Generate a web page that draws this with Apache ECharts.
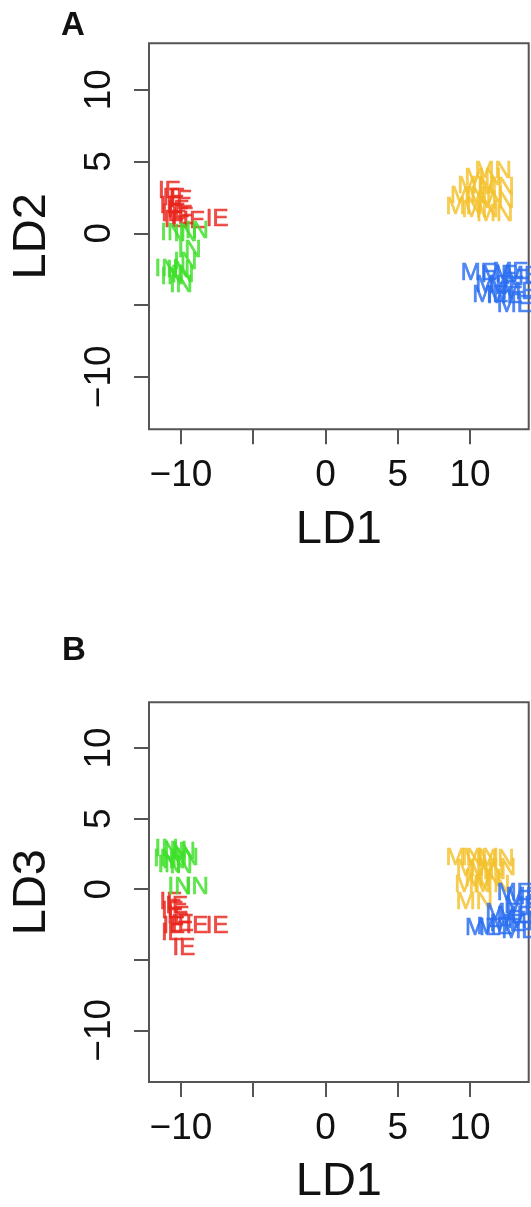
<!DOCTYPE html>
<html>
<head>
<meta charset="utf-8">
<script src="https://cdn.jsdelivr.net/npm/echarts@6/dist/echarts.min.js"></script>
<style>
html,body{margin:0;padding:0;background:#fff;}
#c{width:531px;height:1207px;}
</style>
</head>
<body>
<div id="c"></div>
<script>
// Tick values and labels
const xTicks = [-10, -5, 0, 5, 10];
const xTickLabels = [-10, 0, 5, 10];
const yTicks = [-10, -5, 0, 5, 10];
const yTickLabels = [-10, 0, 5, 10];

// Panel A: LD1 vs LD2
const A_IE = [[-10.8,2.9],[-10.5,2.4],[-10.0,2.3],[-10.7,1.9],[-10.2,1.6],[-10.6,1.3],[-9.9,1.1],[-10.4,0.9],[-9.1,0.8],[-7.5,0.95]];
const A_IN = [[-10.6,0.0],[-9.7,-0.1],[-8.9,0.1],[-9.4,-1.2],[-9.7,-2.0],[-11.0,-2.5],[-10.2,-2.6],[-10.6,-3.1],[-10.0,-3.6],[-9.9,-2.9]];
const A_MN = [[11.6,4.3],[10.9,3.8],[10.4,3.3],[11.8,3.2],[9.9,2.6],[11.0,2.6],[11.8,2.2],[9.6,1.8],[10.7,1.6],[11.7,1.3]];
const A_ME = [[10.6,-2.8],[12.0,-2.9],[12.8,-2.7],[13.6,-3.0],[11.6,-3.6],[12.5,-3.7],[11.4,-4.3],[12.4,-4.4],[13.4,-4.1],[13.1,-5.0]];

// Panel B: LD1 vs LD3
const B_IN = [[-11.0,2.8],[-10.4,2.7],[-9.8,2.6],[-11.1,2.1],[-10.5,2.0],[-9.6,2.2],[-10.8,1.7],[-10.0,1.6],[-10.1,0.1],[-8.9,0.1]];
const B_IE = [[-10.7,-0.9],[-10.3,-1.2],[-10.6,-1.6],[-10.2,-1.9],[-10.5,-2.6],[-9.9,-2.5],[-8.9,-2.6],[-7.5,-2.6],[-10.6,-3.1],[-9.8,-4.2]];
const B_MN = [[9.6,2.2],[10.7,2.2],[11.8,2.1],[10.3,1.4],[11.2,1.2],[11.9,1.5],[10.9,0.7],[10.2,0.3],[11.5,0.3],[10.3,-0.9]];
const B_ME = [[13.1,-0.3],[13.7,-0.6],[13.6,-1.2],[12.3,-1.7],[13.1,-1.9],[13.8,-2.3],[10.9,-2.8],[11.7,-2.7],[12.6,-2.5],[13.4,-3.0]];

const colors = {IE:'#e8241c', IN:'#3fe02a', MN:'#f4c22e', ME:'#2b6ef0'};
const FONT = 'Liberation Sans, Arial, Helvetica, sans-serif';
const fmt = v => String(v).replace('-', '\u2212');

function mkX(idx){
  return {
    type:'value', gridIndex:idx, min:-12.21, max:14.06,
    name:'LD1', nameLocation:'middle', nameGap:77,
    nameTextStyle:{fontSize:47, color:'#111', fontFamily:FONT},
    axisLine:{show:false, onZero:false},
    axisTick:{show:true, length:15, lineStyle:{color:'#555', width:2}, customValues:xTicks},
    axisLabel:{show:true, margin:28, fontSize:37, color:'#111', fontFamily:FONT, customValues:xTickLabels, formatter:fmt},
    splitLine:{show:false}
  };
}
function mkY(idx, name){
  return {
    type:'value', gridIndex:idx, min:-13.66, max:13.24,
    name:name, nameLocation:'middle', nameGap:93, nameRotate:90,
    nameTextStyle:{fontSize:47, color:'#111', fontFamily:FONT},
    axisLine:{show:false, onZero:false},
    axisTick:{show:true, length:15, lineStyle:{color:'#555', width:2}, customValues:yTicks},
    axisLabel:{show:true, margin:31, rotate:90, fontSize:37, color:'#111', fontFamily:FONT, customValues:yTickLabels, formatter:fmt},
    splitLine:{show:false}
  };
}
function mkS(label, data, idx){
  return {
    type:'scatter', xAxisIndex:idx, yAxisIndex:idx, data:data,
    symbol:'circle', symbolSize:1, itemStyle:{color:'rgba(0,0,0,0)'},
    label:{show:true, position:'inside', formatter:label, color:colors[label], fontSize:24, fontFamily:FONT,
           textBorderColor:colors[label], textBorderWidth:0.7},
    emphasis:{disabled:true}, silent:true
  };
}

const chart = echarts.init(document.getElementById('c'), null, {renderer:'canvas'});
chart.setOption({
  animation:false,
  backgroundColor:'#fff',
  title:[
    {text:'A', left:61, top:9, padding:0, textStyle:{fontSize:33, fontWeight:'bold', color:'#111', fontFamily:FONT}},
    {text:'B', left:62, top:634, padding:0, textStyle:{fontSize:33, fontWeight:'bold', color:'#111', fontFamily:FONT}}
  ],
  grid:[
    {left:149, top:43.3, width:379.7, height:386, show:true, borderColor:'#555', borderWidth:2, backgroundColor:'#fff'},
    {left:149, top:702.3, width:379.7, height:386, show:true, borderColor:'#555', borderWidth:2, backgroundColor:'#fff'}
  ],
  xAxis:[mkX(0), mkX(1)],
  yAxis:[mkY(0,'LD2'), mkY(1,'LD3')],
  series:[
    mkS('IE', A_IE, 0), mkS('IN', A_IN, 0), mkS('MN', A_MN, 0), mkS('ME', A_ME, 0),
    mkS('IE', B_IE, 1), mkS('IN', B_IN, 1), mkS('MN', B_MN, 1), mkS('ME', B_ME, 1)
  ]
});
</script>
</body>
</html>
